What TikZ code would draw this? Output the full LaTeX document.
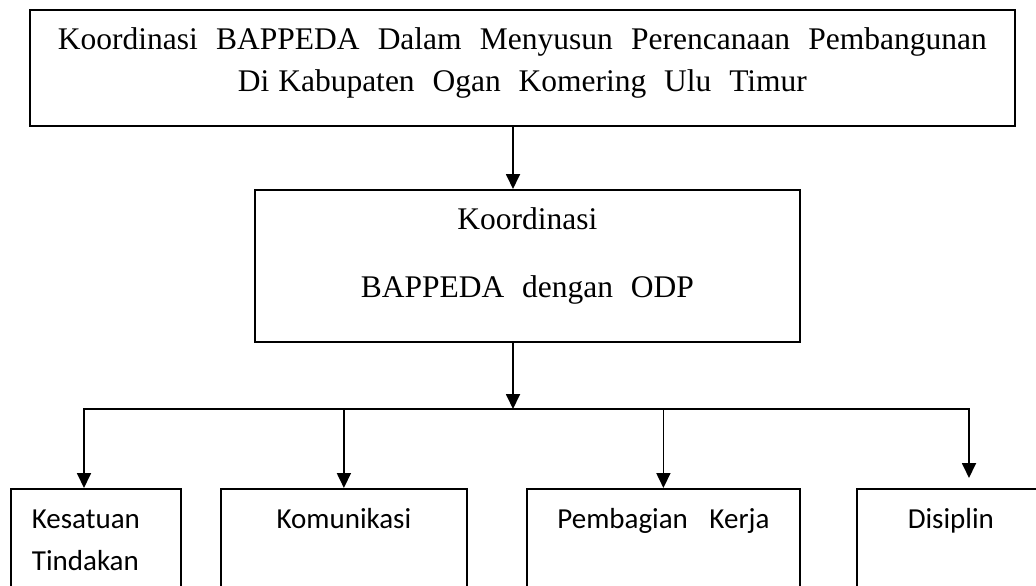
\documentclass[tikz,border=0pt]{standalone}
\usepackage{fontspec}
\setmainfont{Liberation Serif}
\newfontfamily\calibri{Carlito}
\usetikzlibrary{arrows.meta}
\tikzset{
        >={Triangle[length=15pt,width=14pt]}, % filled arrow heads
        judulbox/.style={draw, anchor=north west, align=center,
                inner xsep=0pt, inner ysep=0pt,
                font=\fontsize{31.5}{42}\selectfont}, % the two upper boxes
        faktor/.style={draw, anchor=north west, align=center,
                inner xsep=0pt, inner ysep=0pt, text height=40pt, text depth=120pt,
                font=\calibri\fontsize{29}{42}\selectfont}, % the four lower boxes, cut off at the bottom
}
\def\halaman{(0,0) rectangle (1036,586)}

\begin{document}
\begin{tikzpicture}[x=1pt, y=-1pt, line width=1.8pt]
      \useasboundingbox \halaman;
      \clip \halaman;
      \node[judulbox, minimum width=985pt, text height=82pt, text depth=34pt] (judul) at (29,9)
            {\makebox[929pt][s]{Koordinasi BAPPEDA Dalam Menyusun Perencanaan Pembangunan}\\
             \makebox[569pt][s]{Di Kabupaten\ \ Ogan\ \ Komering\ \ Ulu\ \ Timur}};
      \node[judulbox, minimum width=545pt, text height=108pt, text depth=44pt,
            font=\fontsize{31.5}{68}\selectfont] (koord) at (254,189)
            {Koordinasi\\ \makebox[333pt][s]{BAPPEDA dengan ODP}};
      % lower row
      \node[faktor, align=left, inner xsep=21pt, text width=128pt] (kesatuan) at (10,488) {Kesatuan\\Tindakan};
      \node[faktor, minimum width=246pt] (komunikasi) at (220,488) {Komunikasi};
      \node[faktor, minimum width=273pt] (pembagian) at (526,488) {\makebox[212pt][s]{Pembagian Kerja}};
      \node[faktor, minimum width=188pt] (disiplin) at (856,488) {Disiplin};
      \coordinate (cabang) at (513,409);
      \coordinate (ujungkiri) at (84,409);
      \coordinate (ujungkanan) at (969,409);
      \coordinate (ujungdisiplin) at (969,478);
      % connectors
      \draw[->] (judul.south -| cabang) -- (koord.north -| cabang);
      \draw[->] (koord.south -| cabang) -- (cabang);
      \draw[<->] (kesatuan.north -| ujungkiri) -- (ujungkiri) -- (ujungkanan) -- (ujungdisiplin);
      \draw[->] (komunikasi.north |- cabang) -- (komunikasi.north);
      \draw[->] (pembagian.north |- cabang) -- (pembagian.north);
\end{tikzpicture}
\end{document}
